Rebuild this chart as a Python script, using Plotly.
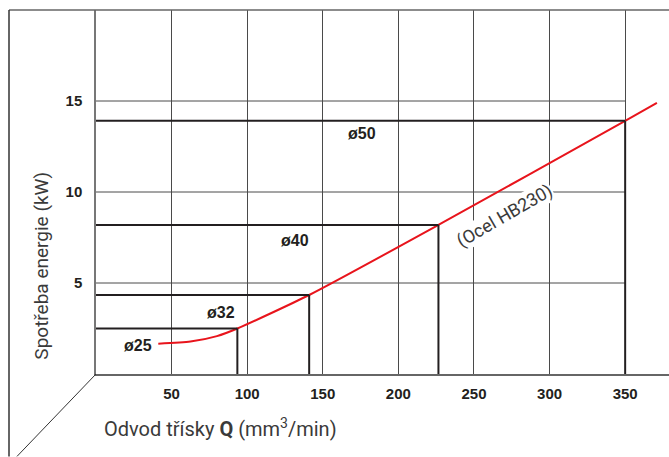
import plotly.graph_objects as go

# ---- data ----
x_ticks = [50, 100, 150, 200, 250, 300, 350]
y_ticks = [5, 10, 15]

curve_q = [41.2, 62.5, 80.0, 93.5, 141.0, 226.5, 350.0, 371.0]
curve_kw = [1.66, 1.78, 2.08, 2.50, 4.34, 8.19, 13.91, 14.90]

drill_labels = ["ø25", "ø32", "ø40", "ø50"]
drill_q = [93.5, 141.0, 226.5, 350.0]
drill_kw = [2.50, 4.34, 8.19, 13.91]
label_q = [27.5, 83.0, 131.5, 176.0]
label_kw = [1.55, 3.40, 7.35, 13.22]

material_label = "(Ocel HB230)"

GRID = "#4a4a4a"
BLACK = "#231f20"
RED = "#e8141c"
TXT = "#3a3a3a"

W, H = 669, 457
plot_l, plot_t = 96, 10
plot_w, plot_h = 573, 364.5

fig = go.Figure()

# red consumption curve
fig.add_trace(go.Scatter(
    x=curve_q, y=curve_kw, mode="lines",
    line=dict(color=RED, width=2, shape="spline", smoothing=0.6),
    hoverinfo="skip", showlegend=False))

shapes = []
# horizontal grid lines (stop at 350)
for yv in y_ticks:
    shapes.append(dict(type="line", xref="x", yref="y", x0=0, x1=350, y0=yv, y1=yv,
                       line=dict(color=GRID, width=1), layer="below"))
# thick drill box lines
for q, kw in zip(drill_q, drill_kw):
    shapes.append(dict(type="line", xref="x", yref="y", x0=0, x1=q, y0=kw, y1=kw,
                       line=dict(color=BLACK, width=2)))
    shapes.append(dict(type="line", xref="x", yref="y", x0=q, x1=q, y0=0, y1=kw,
                       line=dict(color=BLACK, width=2)))

# decorative frame
fx = (9 - plot_l) / plot_w
by = (plot_t + plot_h - H) / plot_h
dx = (17 - plot_l) / plot_w
shapes.append(dict(type="line", xref="paper", yref="paper", x0=fx, x1=1, y0=1, y1=1,
                   line=dict(color="#666666", width=1.5)))
shapes.append(dict(type="line", xref="paper", yref="paper", x0=fx, x1=fx, y0=1, y1=by,
                   line=dict(color="#333333", width=1.5)))
shapes.append(dict(type="line", xref="paper", yref="paper", x0=0, x1=dx, y0=0, y1=by,
                   line=dict(color="#333333", width=1)))

annotations = []
for t, q, kw in zip(drill_labels, label_q, label_kw):
    annotations.append(dict(x=q, y=kw, xref="x", yref="y", text="<b>%s</b>" % t,
                            showarrow=False,
                            font=dict(family="Liberation Sans, Arial", size=16, color=BLACK)))
annotations.append(dict(x=270.0, y=8.7, xref="x", yref="y", text=material_label,
                        showarrow=False, textangle=-30, bgcolor="white", borderpad=0,
                        font=dict(family="Roboto", size=18, color=TXT)))
annotations.append(dict(x=(102 - plot_l) / plot_w, y=(plot_t + plot_h - 429) / plot_h,
                        xref="paper", yref="paper",
                        text="Odvod třísky <b>Q</b> (mm<sup>3</sup>/min)",
                        showarrow=False, xanchor="left", yanchor="middle",
                        font=dict(family="Roboto", size=20, color=TXT)))
annotations.append(dict(x=(42 - plot_l) / plot_w, y=(plot_t + plot_h - 266) / plot_h,
                        xref="paper", yref="paper",
                        text="Spotřeba energie (kW)", textangle=-90,
                        showarrow=False, xanchor="center", yanchor="middle",
                        font=dict(family="Roboto", size=19, color=TXT)))

fig.update_layout(
    width=W, height=H,
    margin=dict(l=plot_l, r=W - plot_l - plot_w, t=plot_t, b=H - plot_t - plot_h),
    paper_bgcolor="white", plot_bgcolor="white",
    shapes=shapes, annotations=annotations,
    xaxis=dict(range=[0, 379], tickvals=x_ticks, ticktext=[str(v) for v in x_ticks],
               showgrid=True, gridcolor=GRID, gridwidth=1, zeroline=False,
               showline=True, linecolor="#666666", linewidth=1.5,
               ticks="", ticklabelstandoff=5, automargin=False, fixedrange=True,
               tickfont=dict(family="Liberation Sans, Arial", size=15, color=BLACK,
                             weight="bold")),
    yaxis=dict(range=[0, 20], tickvals=y_ticks, ticktext=[str(v) for v in y_ticks],
               showgrid=False, zeroline=False,
               showline=True, linecolor="#777777", linewidth=1.5,
               ticks="", ticklabelstandoff=9, automargin=False, fixedrange=True,
               tickfont=dict(family="Liberation Sans, Arial", size=15, color=BLACK,
                             weight="bold")),
    showlegend=False,
)

fig.write_html("out.html", config={"displayModeBar": False},
               post_script="document.body.style.margin='0';document.body.style.overflow='hidden';")
